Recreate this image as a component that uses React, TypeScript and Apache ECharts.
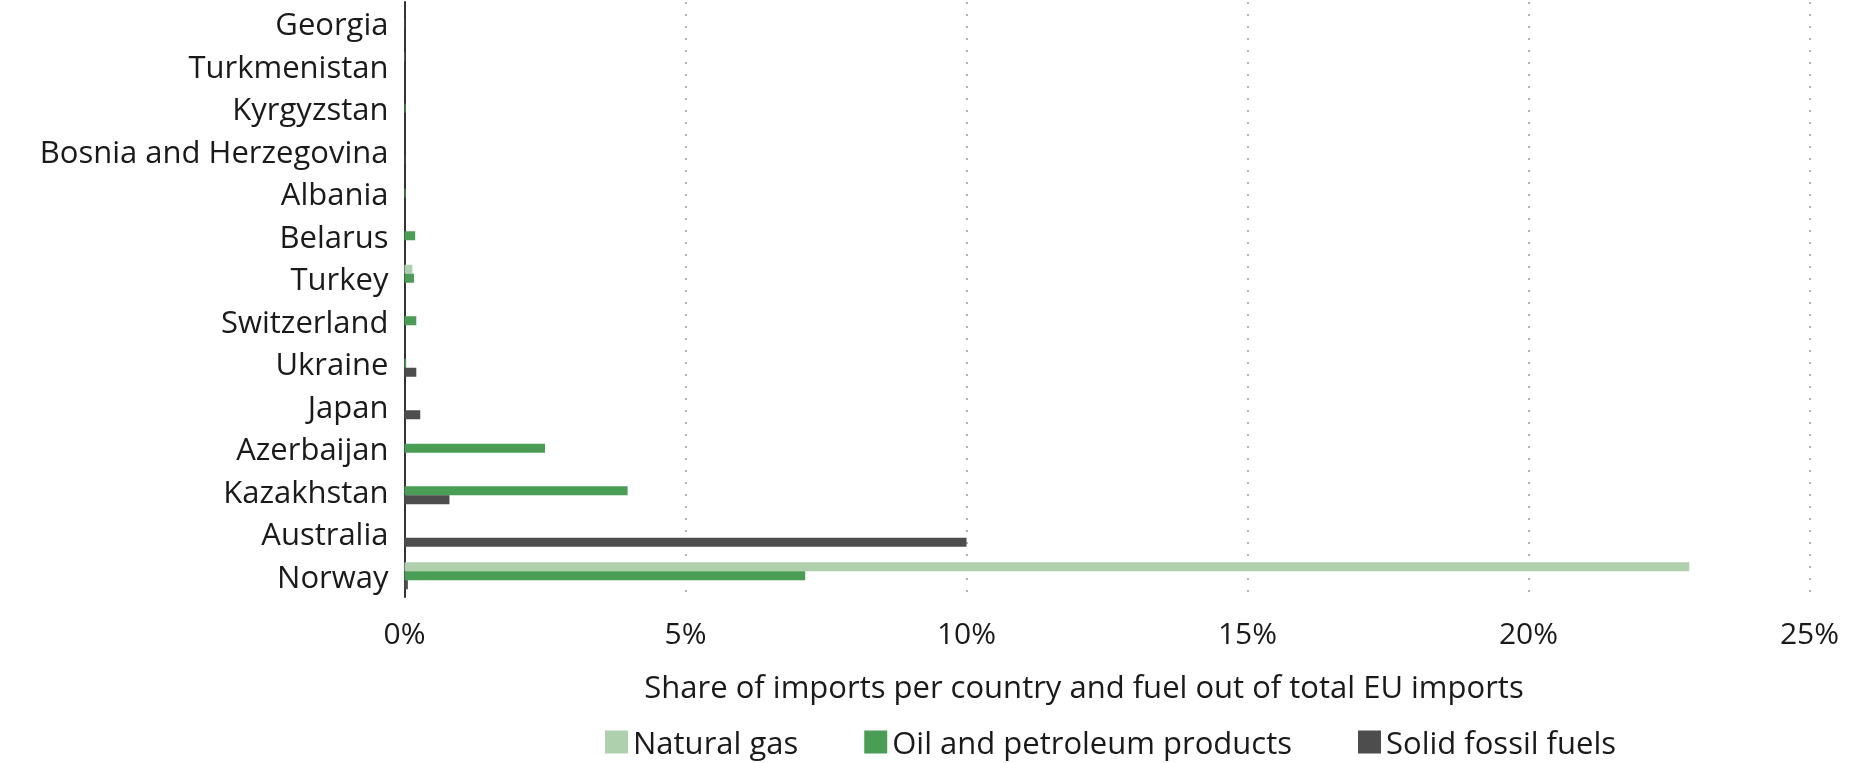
import React, { useEffect, useRef } from "react";
import * as echarts from "echarts";

const countries = [
  "Norway",
  "Australia",
  "Kazakhstan",
  "Azerbaijan",
  "Japan",
  "Ukraine",
  "Switzerland",
  "Turkey",
  "Belarus",
  "Albania",
  "Bosnia and Herzegovina",
  "Kyrgyzstan",
  "Turkmenistan",
  "Georgia",
];

const naturalGas = [22.86, 0, 0, 0, 0, 0, 0, 0.14, 0, 0, 0, 0, 0.005, 0];
const oilPetroleum = [7.13, 0, 3.97, 2.5, 0, 0.03, 0.21, 0.17, 0.19, 0.02, 0, 0.02, 0, 0.005];
const solidFossil = [0.06, 10.0, 0.8, 0, 0.28, 0.21, 0, 0, 0, 0, 0.02, 0, 0, 0];

const xTicks = { min: 0, max: 25, interval: 5 };

const FONT = "'Open Sans', sans-serif";
const TEXT = "#1a1a1a";

export default function App() {
  const ref = useRef<HTMLDivElement>(null);
  useEffect(() => {
    if (!ref.current) return;
    const chart = echarts.init(ref.current, null, { renderer: "svg" });
    const barW = 9;
    chart.setOption({
      animation: false,
      textStyle: { fontFamily: FONT },
      grid: { left: 404.5, right: 45.5, top: 2, height: 595, containLabel: false },
      legend: {
        left: 600,
        top: 720,
        itemWidth: 23,
        itemHeight: 23,
        itemGap: 66,
        icon: "rect",
        textStyle: { fontSize: 31, color: TEXT, fontFamily: FONT, lineHeight: 34 },
        data: ["Natural gas", "Oil and petroleum products", "Solid fossil fuels"],
      },
      xAxis: {
        type: "value",
        min: xTicks.min,
        max: xTicks.max,
        interval: xTicks.interval,
        name: "Share of imports per country and fuel out of total EU imports",
        nameLocation: "middle",
        nameGap: 73,
        nameTextStyle: {
          fontSize: 31,
          color: TEXT,
          fontFamily: FONT,
          padding: [0, 46, 0, 0],
        },
        axisLine: { show: false },
        axisTick: { show: false },
        axisLabel: {
          formatter: "{value}%",
          fontSize: 30,
          color: TEXT,
          margin: 20,
          fontFamily: FONT,
        },
        splitLine: {
          show: true,
          lineStyle: { color: "#b3b3b3", width: 2, type: [2, 10] },
        },
      },
      yAxis: {
        type: "category",
        data: countries,
        axisLine: { show: true, lineStyle: { color: "#333333", width: 2 } },
        axisTick: { show: false },
        axisLabel: { fontSize: 31, color: TEXT, margin: 16, fontFamily: FONT },
        splitLine: { show: false },
      },
      series: [
        {
          name: "Natural gas",
          type: "bar",
          data: naturalGas,
          barWidth: barW,
          barGap: "0%",
          itemStyle: { color: "#aed0ad" },
        },
        {
          name: "Oil and petroleum products",
          type: "bar",
          data: oilPetroleum,
          barWidth: barW,
          barGap: "0%",
          itemStyle: { color: "#4a9d55" },
        },
        {
          name: "Solid fossil fuels",
          type: "bar",
          data: solidFossil,
          barWidth: barW,
          barGap: "0%",
          itemStyle: { color: "#4d4d4d" },
        },
      ],
    });
    return () => chart.dispose();
  }, []);
  return (
    <div
      ref={ref}
      style={{ position: "fixed", left: 0, top: 0, width: 1855, height: 763 }}
    />
  );
}
